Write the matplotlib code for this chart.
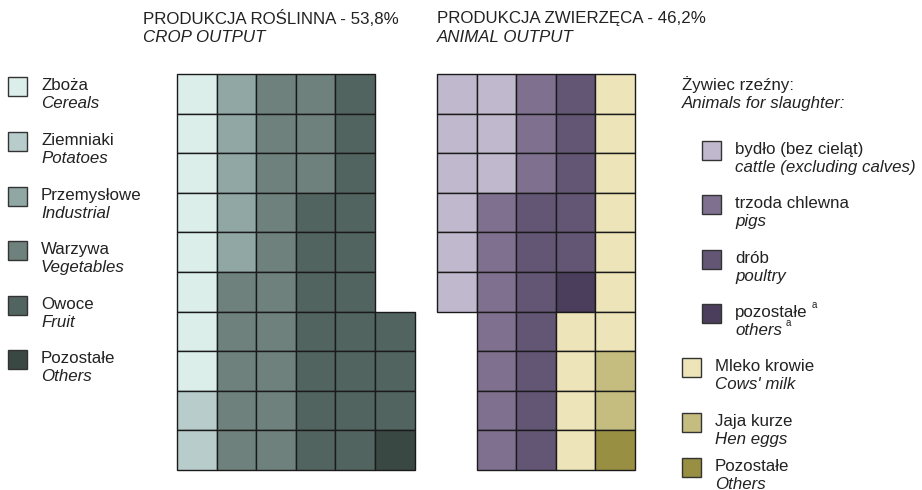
import matplotlib.pyplot as plt
from matplotlib.patches import Rectangle

plt.rcParams['font.family'] = ['Liberation Sans', 'DejaVu Sans']

# crop output: cells per category (1 cell ~ 1%)
crop_pl = ["Zboża", "Ziemniaki", "Przemysłowe", "Warzywa", "Owoce", "Pozostałe"]
crop_en = ["Cereals", "Potatoes", "Industrial", "Vegetables", "Fruit", "Others"]
crop_cells = [8, 2, 5, 18, 20, 1]
crop_colors = ["#DCEEEA", "#B8CCCB", "#90A7A4", "#6F817C", "#52645F", "#3A4843"]

# animal output
anim_pl = ["bydło (bez cieląt)", "trzoda chlewna", "drób", "pozostałe",
           "Mleko krowie", "Jaja kurze", "Pozostałe"]
anim_en = ["cattle (excluding calves)", "pigs", "poultry", "others",
           "Cows' milk", "Hen eggs", "Others"]
anim_cells = [9, 10, 12, 1, 11, 2, 1]
anim_colors = ["#C0B8CC", "#7F7090", "#635675", "#4B3D5C",
               "#EDE4B9", "#C4BD7F", "#988F42"]

crop_title = ["PRODUKCJA ROŚLINNA - 53,8%", "CROP OUTPUT"]
anim_title = ["PRODUKCJA ZWIERZĘCA - 46,2%", "ANIMAL OUTPUT"]

fig = plt.figure(figsize=(9.22, 4.90), dpi=100)
ax = fig.add_axes([0, 0, 1, 1])
ax.set_xlim(0, 922)
ax.set_ylim(490, 0)
ax.axis('off')

CELL = 39.6
TOP = 74
NROWS = 10


def waffle(x0, col_rows, top_align, counts, colors):
    # fill column by column, top to bottom
    cells = []
    for c, n in zip(colors, counts):
        cells += [c] * n
    k = 0
    for ci, nr in enumerate(col_rows):
        start = 0 if top_align[ci] else NROWS - nr
        for r in range(start, start + nr):
            ax.add_patch(Rectangle((x0 + ci * CELL, TOP + r * CELL), CELL, CELL,
                                   facecolor=cells[k], edgecolor="#1a1a1a", lw=1.0))
            k += 1


waffle(177, [10, 10, 10, 10, 10, 4], [True] * 5 + [False], crop_cells, crop_colors)
waffle(437, [6, 10, 10, 10, 10], [True] * 5, anim_cells, anim_colors)

fs = 12.2
for x, t in [(143, crop_title), (437, anim_title)]:
    ax.text(x, 18, t[0], fontsize=fs, va='center', color="#222222")
    ax.text(x, 37, t[1], fontsize=fs, va='center', style='italic', color="#222222")


def legend_item(xs, ytop, color, pl, en, sup=False):
    ax.add_patch(Rectangle((xs, ytop), 19, 19, facecolor=color,
                           edgecolor="#333333", lw=1.0))
    tx = xs + 33
    t1 = ax.text(tx, ytop + 8, pl, fontsize=fs, va='center', color="#222222")
    t2 = ax.text(tx, ytop + 26, en, fontsize=fs, va='center', style='italic',
                 color="#222222")
    if sup:
        fig.canvas.draw()
        for t, dy in [(t1, 8), (t2, 26)]:
            bb = t.get_window_extent()
            ax.text(bb.x1 + 4, ytop + dy - 7, "a", fontsize=7, va='center',
                    color="#222222")


crop_tops = [77, 132, 187, 241, 296, 350]
for i in range(len(crop_pl)):
    legend_item(8, crop_tops[i], crop_colors[i], crop_pl[i], crop_en[i])

ax.text(682, 85, "Żywiec rzeźny:", fontsize=fs, va='center', color="#222222")
ax.text(682, 103, "Animals for slaughter:", fontsize=fs, va='center',
        style='italic', color="#222222")

anim_tops = [141, 195, 250, 304, 358, 413, 458]
for i in range(len(anim_pl)):
    xs = 702 if i < 4 else 682
    legend_item(xs, anim_tops[i], anim_colors[i], anim_pl[i], anim_en[i], sup=(i == 3))

fig.savefig("out.png", dpi=100)
